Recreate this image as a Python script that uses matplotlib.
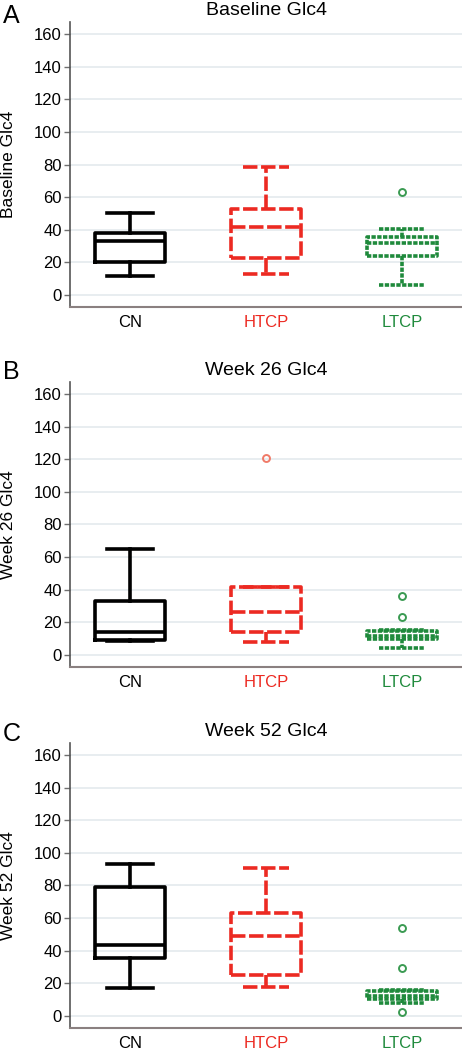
import matplotlib.pyplot as plt

groups = ['CN', 'HTCP', 'LTCP']
panel_letters = ['A', 'B', 'C']
titles = ['Baseline Glc4', 'Week 26 Glc4', 'Week 52 Glc4']
yticks = [0, 20, 40, 60, 80, 100, 120, 140, 160]

# five-number summaries: whisker low, Q1, median, Q3, whisker high
baseline_cn = [11.4, 20.0, 33.3, 37.8, 50.5]
baseline_htcp = [12.9, 22.9, 41.9, 52.9, 78.7]
baseline_ltcp = [6.1, 23.7, 31.7, 35.6, 40.7]
baseline_out = [[], [], [63.3]]

week26_cn = [8.6, 9.4, 13.9, 32.9, 65.2]
week26_htcp = [8.0, 14.3, 26.2, 41.5, 41.5]
week26_ltcp = [4.0, 10.0, 11.8, 14.5, 15.0]
week26_out = [[], [121.0], [36.4, 23.3]]

week52_cn = [17.0, 35.8, 43.2, 78.8, 93.1]
week52_htcp = [18.0, 25.0, 48.7, 63.2, 90.6]
week52_ltcp = [7.6, 10.2, 12.5, 15.1, 15.8]
week52_out = [[], [], [54.2, 29.1, 2.5]]

panels = [
    ([baseline_cn, baseline_htcp, baseline_ltcp], baseline_out),
    ([week26_cn, week26_htcp, week26_ltcp], week26_out),
    ([week52_cn, week52_htcp, week52_ltcp], week52_out),
]

colors = ['black', '#ec2a22', '#1f8a3c']
flier_colors = ['black', '#f07a68', '#3a9a52']
styles = ['-', (0, (4, 1)), (0, (1.2, 0.4))]

plt.rcParams['font.family'] = ['Liberation Sans', 'DejaVu Sans']
fig = plt.figure(figsize=(4.62, 10.5), dpi=100)

# axes rectangles in figure fractions (left, bottom, width, height)
bottoms = [0.7076, 0.3648, 0.0210]
label_y = [1 - 23 / 1050, 1 - 379 / 1050, 1 - 741 / 1050]

for k in range(3):
    ax = fig.add_axes([70 / 462, bottoms[k], 392 / 462, 285 / 1050])
    five, outs = panels[k]
    for i in range(3):
        lo, q1, med, q3, hi = five[i]
        st = [{'whislo': lo, 'q1': q1, 'med': med, 'q3': q3, 'whishi': hi,
               'fliers': outs[i]}]
        lp = dict(color=colors[i], linewidth=2.6, linestyle=styles[i])
        ax.bxp(st, positions=[i + 1], widths=0.51, capwidths=0.345,
               boxprops=lp, whiskerprops=lp, capprops=lp, medianprops=lp,
               flierprops=dict(marker='o', markersize=5, markerfacecolor='none',
                               markeredgecolor=flier_colors[i], markeredgewidth=1.4),
               manage_ticks=False)

    ax.set_xlim(0.559, 3.441)
    ax.set_ylim(-7.4, 167.4)
    ax.set_yticks(yticks)
    ax.set_xticks([1, 2, 3])
    ax.set_xticklabels(groups)
    for lab, c in zip(ax.get_xticklabels(), colors):
        lab.set_color(c)
    ax.tick_params(axis='x', length=0, pad=6, labelsize=12)
    ax.tick_params(axis='y', length=4, width=1, color='#707070', pad=2, labelsize=12)
    ax.grid(axis='y', color='#e4eaee', linewidth=1.2)
    ax.set_axisbelow(True)
    ax.spines['top'].set_visible(False)
    ax.spines['right'].set_visible(False)
    ax.spines['left'].set_color('#555555')
    ax.spines['left'].set_linewidth(1.2)
    ax.spines['bottom'].set_color('#8a8080')
    ax.spines['bottom'].set_linewidth(1.5)

    ax.text(0.5, 1.026, titles[k], transform=ax.transAxes, ha='center', va='baseline',
            fontsize=14)
    ax.text(-0.158, 0.5, titles[k], transform=ax.transAxes, rotation=90,
            ha='center', va='center', fontsize=12.5)
    fig.text(0.006, label_y[k], panel_letters[k], ha='left', va='baseline', fontsize=18)

plt.savefig('out.png', dpi=100)
plt.close()
